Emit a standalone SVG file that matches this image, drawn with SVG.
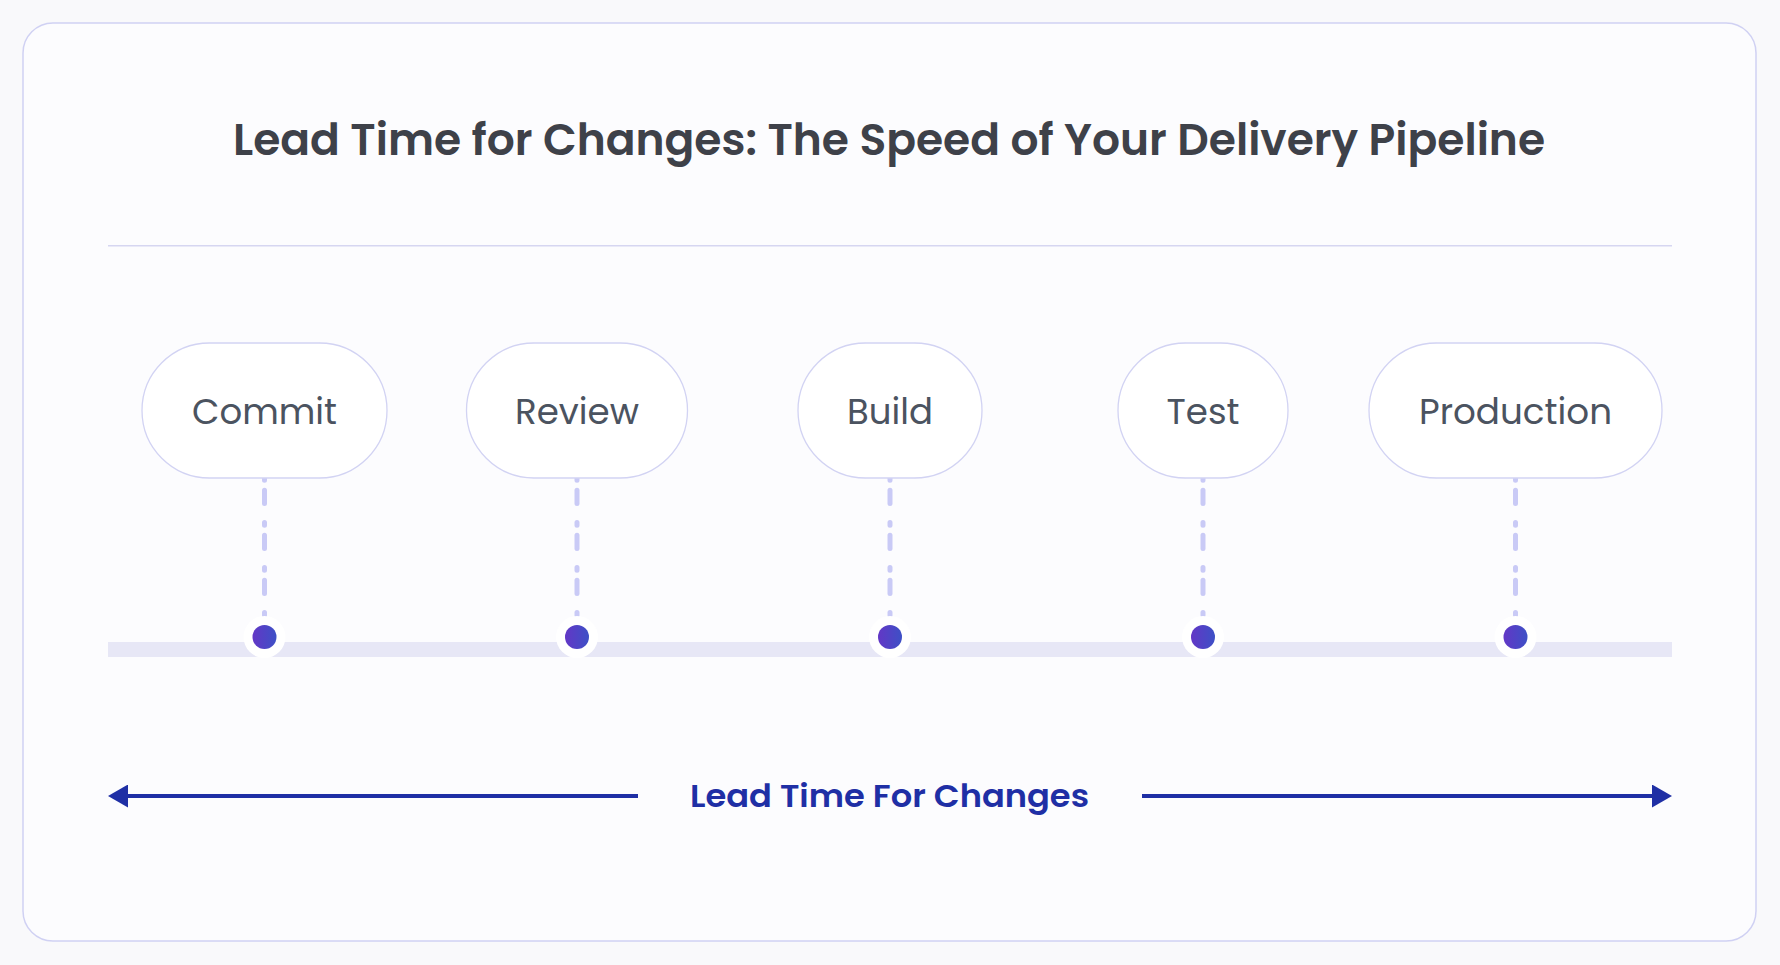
<svg xmlns="http://www.w3.org/2000/svg" width="1780" height="965" viewBox="0 0 1780 965">
<defs>
<linearGradient id="dotGrad" x1="0" y1="0" x2="1" y2="0">
<stop offset="0" stop-color="#6337c6"/>
<stop offset="1" stop-color="#3d50c6"/>
</linearGradient>
<marker id="arrowEnd" viewBox="0 0 20 23" refX="0" refY="11.5" markerWidth="20" markerHeight="23" markerUnits="userSpaceOnUse" orient="auto">
<path d="M0,0 L20,11.5 L0,23 Z" fill="#1f2fa5"/>
</marker>
<style>
.pill{fill:#ffffff;stroke:#d2d3f3;stroke-width:1.3}
.lbl{font-family:Poppins,"Inter","Liberation Sans",sans-serif;font-size:35px;fill:#4b5360;text-anchor:middle}
.dash{stroke:#c9caf6;stroke-width:5;stroke-linecap:round;stroke-dasharray:2.7 10 13.3 19;fill:none}
.halo{fill:#ffffff}
.dot{fill:url(#dotGrad)}
.arrow{stroke:#1f2fa5;stroke-width:4;fill:none}
</style>
</defs>
<rect x="0" y="0" width="1780" height="965" fill="#f9f9fb"/>
<rect x="23" y="23" width="1733" height="918" rx="30" fill="#fcfcfe" stroke="#d0d1f3" stroke-width="1.5"/>
<text x="889" y="155" font-family="Poppins,Inter,'Liberation Sans',sans-serif" font-weight="600" font-size="44" fill="#3e4149" text-anchor="middle" textLength="1312" lengthAdjust="spacingAndGlyphs">Lead Time for Changes: The Speed of Your Delivery Pipeline</text>
<line x1="108" y1="245.7" x2="1672" y2="245.7" stroke="#d6d6f1" stroke-width="1.6"/>
<rect x="108" y="642" width="1564" height="15" fill="#e7e7f6"/>
<g id="connectors">
<line class="dash" x1="264.5" y1="477.5" x2="264.5" y2="616"/>
<line class="dash" x1="577" y1="477.5" x2="577" y2="616"/>
<line class="dash" x1="890" y1="477.5" x2="890" y2="616"/>
<line class="dash" x1="1203" y1="477.5" x2="1203" y2="616"/>
<line class="dash" x1="1515.5" y1="477.5" x2="1515.5" y2="616"/>
<line class="arrow" x1="638" y1="796" x2="128" y2="796" marker-end="url(#arrowEnd)"/>
<line class="arrow" x1="1142" y1="796" x2="1652" y2="796" marker-end="url(#arrowEnd)"/>
</g>
<g id="commit">
<rect class="pill" x="142" y="343" width="245" height="135" rx="67.5"/>
<text class="lbl" x="264.5" y="424" textLength="145" lengthAdjust="spacingAndGlyphs">Commit</text>
<circle class="halo" cx="264.5" cy="637" r="21"/>
<circle class="dot" cx="264.5" cy="637" r="12"/>
</g>
<g id="review">
<rect class="pill" x="466.5" y="343" width="221" height="135" rx="67.5"/>
<text class="lbl" x="577" y="424" textLength="124" lengthAdjust="spacingAndGlyphs">Review</text>
<circle class="halo" cx="577" cy="637" r="21"/>
<circle class="dot" cx="577" cy="637" r="12"/>
</g>
<g id="build">
<rect class="pill" x="798" y="343" width="184" height="135" rx="67.5"/>
<text class="lbl" x="890" y="424" textLength="86" lengthAdjust="spacingAndGlyphs">Build</text>
<circle class="halo" cx="890" cy="637" r="21"/>
<circle class="dot" cx="890" cy="637" r="12"/>
</g>
<g id="test">
<rect class="pill" x="1118" y="343" width="170" height="135" rx="67.5"/>
<text class="lbl" x="1203" y="424" textLength="73" lengthAdjust="spacingAndGlyphs">Test</text>
<circle class="halo" cx="1203" cy="637" r="21"/>
<circle class="dot" cx="1203" cy="637" r="12"/>
</g>
<g id="production">
<rect class="pill" x="1369" y="343" width="293" height="135" rx="67.5"/>
<text class="lbl" x="1515.5" y="424" textLength="193" lengthAdjust="spacingAndGlyphs">Production</text>
<circle class="halo" cx="1515.5" cy="637" r="21"/>
<circle class="dot" cx="1515.5" cy="637" r="12"/>
</g>
<g id="lead-time-label">
<text x="889.5" y="806.5" font-family="Poppins,Inter,'Liberation Sans',sans-serif" font-weight="600" font-size="32" fill="#1f2fa5" text-anchor="middle" textLength="399" lengthAdjust="spacingAndGlyphs">Lead Time For Changes</text>
</g>
</svg>
